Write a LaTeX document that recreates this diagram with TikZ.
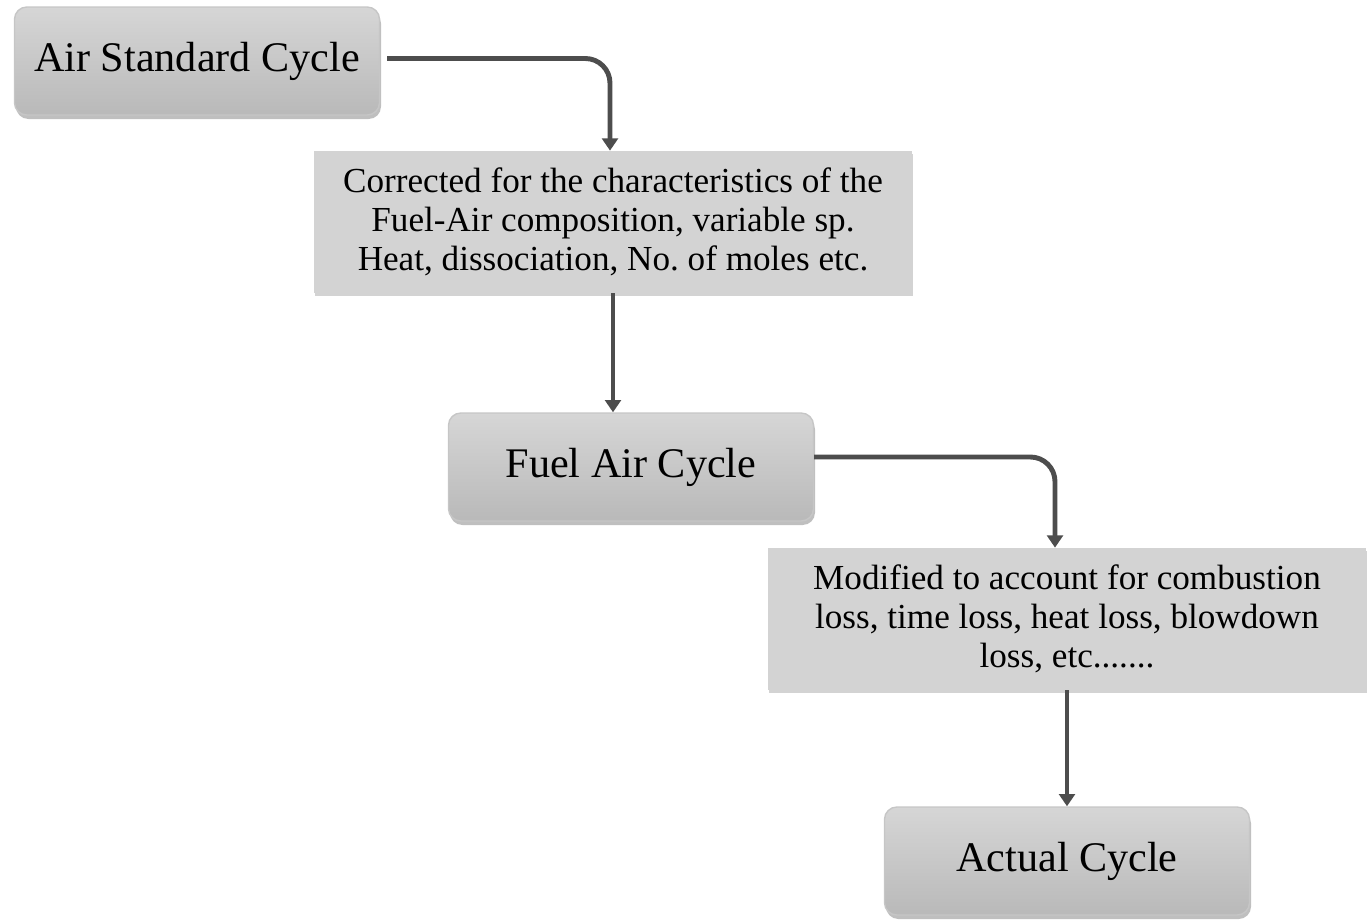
\documentclass[tikz,border=0pt]{standalone}
\usepackage{fontspec}
\setmainfont{Liberation Serif}
\usepackage{tikz}
\usetikzlibrary{arrows.meta, shadows}
\frenchspacing

\definecolor{boxtop}{HTML}{D6D6D6}
\definecolor{boxbot}{HTML}{B9B9B9}
\definecolor{notefill}{HTML}{D3D3D3}
\definecolor{arrowgray}{HTML}{4D4D4D}

\tikzset{
    cyclebox/.style={rounded corners=7pt, draw=gray!45, line width=0.8pt,
        top color=boxtop, bottom color=boxbot,
        drop shadow={opacity=0.5, shadow xshift=0.03cm, shadow yshift=-0.08cm},
        minimum width=7.3cm, minimum height=2.16cm,
        font=\fontsize{24}{28}\selectfont},
    notebox/.style={fill=notefill, align=center,
        drop shadow={opacity=0.35, shadow xshift=0.02cm, shadow yshift=-0.06cm},
        minimum width=11.96cm, minimum height=2.84cm,
        font=\fontsize{20}{22.2}\selectfont},
    flow/.style={draw=arrowgray, line width=2.8pt,
        -{Triangle[length=7pt, width=9pt]}}
}

\begin{document}
\begin{tikzpicture}
    \useasboundingbox (0, 0) rectangle (27.42, -18.38);

    \node[cyclebox] at (3.94, -1.22)   (asc) {Air Standard Cycle};
    \node[notebox]  at (12.26, -4.44)  (cor) {Corrected for the characteristics of the\\Fuel-Air composition, variable sp.\\Heat, dissociation, No. of moles etc.};
    \node[cyclebox] at (12.62, -9.34)  (fac) {Fuel Air Cycle};
    \node[notebox]  at (21.34, -12.38) (mod) {Modified to account for combustion\\loss, time loss, heat loss, blowdown\\loss, etc.......};
    \node[cyclebox] at (21.34, -17.22) (act) {Actual Cycle};

    \draw [flow, rounded corners=14pt, shorten <=4pt] ([yshift=0.05cm]asc.east) -| ([xshift=-0.06cm]cor.north);
    \draw [flow] (cor.south) -- (fac.north -| cor.south);
    \draw [flow, rounded corners=14pt] ([yshift=0.2cm]fac.east) -| ([xshift=-0.24cm]mod.north);
    \draw [flow] (mod.south) -- (act.north);
\end{tikzpicture}
\end{document}
